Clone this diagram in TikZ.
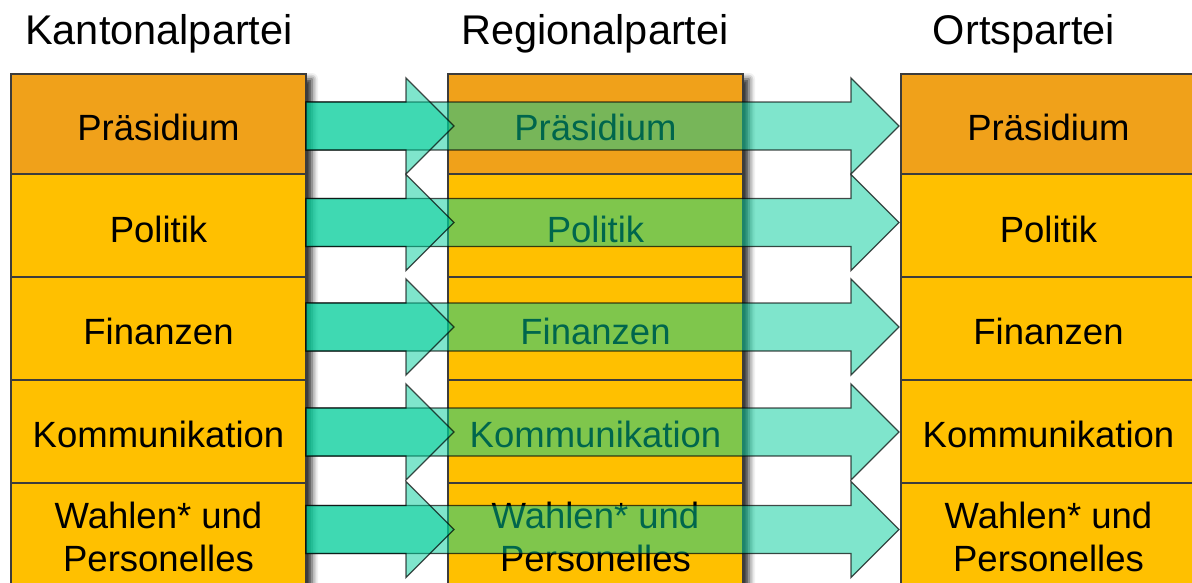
\documentclass[tikz,border=0pt]{standalone}
\usepackage{fontspec}
\setmainfont{Liberation Sans}
\usetikzlibrary{shadows.blur}
\definecolor{orgdark}{HTML}{F0A11A}
\definecolor{orglight}{HTML}{FFC000}
\definecolor{teal}{RGB}{0,204,153}
\definecolor{edge}{HTML}{3C3C3C}
\tikzset{
  cell/.style={draw=edge, line width=1.4pt, minimum width=295pt, inner sep=0pt, outer sep=0pt},
  celltext/.style={inner sep=0pt, font=\fontsize{36.5}{43}\selectfont, align=center, text=black},
  titletext/.style={anchor=base, inner sep=0pt, font=\fontsize{41.5}{50}\selectfont},
  colshadow/.style={fill=white, blur shadow={shadow xshift=6pt, shadow yshift=-5pt, shadow blur radius=6pt, shadow opacity=85}},
  blockarrow/.style={fill=teal, fill opacity=0.5, draw=black, draw opacity=0.7, line width=1.3pt, line join=miter}
}
\newcommand{\barrow}[4]{% #1 start node, #2 head base x, #3 tip x, #4 center y
  \path[blockarrow] (#1.east |- 0,#4-24) -- (#2,#4-24) -- (#2,#4-48) -- (#3,#4) -- (#2,#4+48) -- (#2,#4+24) -- (#1.east |- 0,#4+24) -- cycle;
}
\begin{document}
\begin{tikzpicture}[x=1pt,y=-1pt]
\useasboundingbox (0,0) rectangle (1192,582);
\clip (0,0) rectangle (1192,582);
% titles
\node[titletext] (tk) at (159,44) {Kantonalpartei};
\node[titletext] (tr) at (595,44) {Regionalpartei};
\node[titletext] (to) at (1024,44) {Ortspartei};
% column shadows
\foreach \cx in {11,448,901} {
  \path[colshadow] (\cx,74) rectangle (\cx+295,586);
}
% boxes
\foreach \col/\cx in {k/158.5, r/595.5, o/1048.5} {
  \node[cell, fill=orgdark, minimum height=100pt] (\col1) at (\cx,124) {};
  \node[cell, fill=orglight, minimum height=103pt] (\col2) at (\cx,225.5) {};
  \node[cell, fill=orglight, minimum height=103pt] (\col3) at (\cx,328.5) {};
  \node[cell, fill=orglight, minimum height=103pt] (\col4) at (\cx,431.5) {};
  \node[cell, fill=orglight, minimum height=103pt] (\col5) at (\cx,534.5) {};
  \node[celltext] (\col1t) at ([yshift=-3.5pt]\col1.center) {Präsidium};
  \node[celltext] (\col2t) at ([yshift=-3.5pt]\col2.center) {Politik};
  \node[celltext] (\col3t) at ([yshift=-3pt]\col3.center) {Finanzen};
  \node[celltext] (\col4t) at ([yshift=-3pt]\col4.center) {Kommunikation};
  \node[celltext] (\col5t) at ([yshift=-2.5pt]\col5.center) {Wahlen* und\\Personelles};
}
% arrows
\foreach \i/\yc in {1/126, 2/222.5, 3/327, 4/432, 5/529.5} {
  \barrow{k\i}{851}{899}{\yc}
  \barrow{k\i}{406}{454}{\yc}
}
\end{tikzpicture}
\end{document}
